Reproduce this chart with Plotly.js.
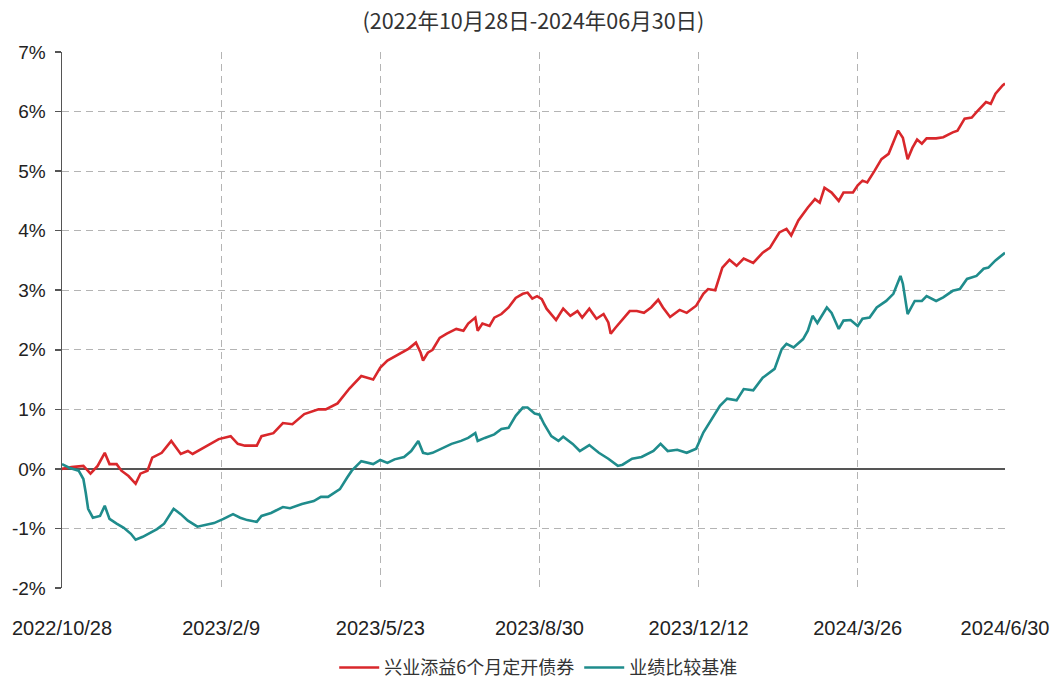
<!DOCTYPE html>
<html>
<head>
<meta charset="utf-8">
<script src="https://cdn.plot.ly/plotly-3.0.1.min.js"></script>
<style>html,body{margin:0;padding:0;background:#fff;}#chart{width:1050px;height:680px;}</style>
</head>
<body>
<div id="chart"></div>
<script>
// Trading-day index (0 = 2022/10/28, 397 = 2024/6/30) and cumulative return (%)
const redName = "兴业添益6个月定开债券";
const tealName = "业绩比较基准";

const redIdx = [0,4,9,12,15,18,20,23,25,28,31,33,36,38,42,46,50,53,55,59,62,66,71,74,77,82,84,89,93,97,102,108,111,116,121,126,131,134,137,143,146,149,151,152,154,156,159,162,166,169,171,174,175,177,180,182,185,188,191,194,196,198,200,202,204,208,211,214,217,219,222,225,228,230,231,233,236,239,242,245,248,251,253,256,260,263,267,270,272,275,278,281,284,287,291,295,298,302,305,307,310,314,317,319,321,324,327,329,333,335,337,339,342,345,348,350,352,354,356,358,360,362,364,368,371,375,377,380,383,385,389,391,393,396,397];
const redVal = [0.0,0.03,0.05,-0.08,0.05,0.27,0.08,0.08,-0.03,-0.12,-0.25,-0.08,-0.03,0.19,0.27,0.47,0.25,0.3,0.25,0.34,0.42,0.5,0.55,0.42,0.39,0.39,0.55,0.6,0.77,0.75,0.92,1.0,1.0,1.1,1.35,1.56,1.5,1.7,1.82,1.95,2.02,2.12,1.95,1.82,1.95,2.0,2.2,2.27,2.35,2.32,2.44,2.54,2.32,2.44,2.4,2.54,2.6,2.71,2.87,2.94,2.96,2.86,2.9,2.85,2.69,2.5,2.69,2.57,2.65,2.54,2.69,2.52,2.6,2.46,2.27,2.37,2.52,2.65,2.65,2.62,2.71,2.84,2.71,2.55,2.67,2.62,2.74,2.94,3.02,3.0,3.38,3.51,3.41,3.53,3.46,3.63,3.71,3.97,4.03,3.92,4.17,4.39,4.53,4.47,4.72,4.64,4.5,4.64,4.64,4.76,4.84,4.81,5.0,5.2,5.29,5.48,5.68,5.56,5.2,5.39,5.53,5.46,5.55,5.55,5.57,5.65,5.68,5.88,5.9,5.99,6.16,6.13,6.3,6.44,6.47];

const tealIdx = [0,3,7,9,10,11,13,16,18,20,23,26,29,31,34,37,40,43,47,50,53,57,60,64,68,72,75,78,82,84,88,93,96,101,106,109,112,117,120,122,126,129,131,134,137,140,144,147,150,152,154,156,160,164,168,171,174,175,178,182,185,188,191,194,196,199,201,203,206,209,211,215,218,222,226,230,234,236,240,244,249,252,255,259,263,267,270,274,277,280,284,287,291,295,300,303,305,308,312,314,316,318,320,322,324,327,329,332,335,337,340,343,347,350,353,354,356,359,362,364,368,371,375,378,381,385,388,390,393,396,397];
const tealVal = [0.08,0.02,-0.03,-0.17,-0.4,-0.67,-0.82,-0.79,-0.62,-0.84,-0.92,-0.99,-1.09,-1.19,-1.14,-1.07,-1.01,-0.92,-0.67,-0.76,-0.87,-0.97,-0.94,-0.91,-0.84,-0.76,-0.82,-0.86,-0.89,-0.79,-0.74,-0.64,-0.66,-0.59,-0.54,-0.47,-0.47,-0.34,-0.15,-0.03,0.13,0.1,0.08,0.15,0.1,0.16,0.2,0.3,0.47,0.27,0.25,0.27,0.35,0.42,0.47,0.52,0.6,0.47,0.52,0.58,0.67,0.69,0.89,1.03,1.03,0.93,0.91,0.75,0.55,0.47,0.54,0.42,0.3,0.4,0.27,0.17,0.05,0.07,0.17,0.2,0.3,0.42,0.3,0.32,0.27,0.34,0.61,0.86,1.06,1.18,1.15,1.34,1.32,1.53,1.68,2.01,2.1,2.04,2.18,2.32,2.57,2.45,2.57,2.71,2.62,2.35,2.49,2.5,2.4,2.52,2.54,2.71,2.82,2.94,3.24,3.11,2.6,2.82,2.82,2.9,2.82,2.88,2.99,3.02,3.19,3.24,3.36,3.38,3.5,3.61,3.63];

const xTickVals = [0,67,134,201,268,335,397];
const xTickText = ["2022/10/28","2023/2/9","2023/5/23","2023/8/30","2023/12/12","2024/3/26","2024/6/30"];
const yTickVals = [-2,-1,0,1,2,3,4,5,6,7];
const yTickText = ["-2%","-1%","0%","1%","2%","3%","4%","5%","6%","7%"];
const titleText = "(2022年10月28日-2024年06月30日)";

const xTickFont = {family: "Liberation Sans, Arial, sans-serif", size: 20, color: "#222"};
const yTickFont = {family: "Liberation Sans, Arial, sans-serif", size: 19, color: "#222"};
const cjkFont = "Noto Sans CJK SC, sans-serif";

const traces = [
  {x: redIdx, y: redVal, type: "scatter", mode: "lines", name: redName,
   line: {color: "#d9272b", width: 2.6, shape: "linear"}},
  {x: tealIdx, y: tealVal, type: "scatter", mode: "lines", name: tealName,
   line: {color: "#1f8c8c", width: 2.6, shape: "linear"}}
];

const layout = {
  width: 1050, height: 680,
  margin: {l: 62, r: 45, t: 52, b: 92, autoexpand: false},
  paper_bgcolor: "#fff", plot_bgcolor: "#fff",
  title: {text: titleText, font: {family: cjkFont, size: 21.5, color: "#333"},
          x: 0.508, xanchor: "center", y: 0.968, yanchor: "middle", yref: "container"},
  xaxis: {
    range: [0, 397], tickvals: xTickVals, ticktext: xTickText,
    showgrid: true, gridcolor: "#b4b4b4", griddash: "7px,5px", gridwidth: 1,
    zeroline: false, showline: false, ticks: "", ticklabelstandoff: 26,
    ticklabeloverflow: "allow", automargin: false,
    tickfont: xTickFont, fixedrange: true
  },
  xaxis2: {
    overlaying: "x", anchor: "free", position: 2/9, range: [0, 397],
    tickvals: xTickVals, ticks: "outside", ticklen: 5, tickcolor: "#444", tickwidth: 1.5,
    showticklabels: false, showgrid: false, zeroline: false, showline: false
  },
  yaxis: {
    range: [-2, 7], tickvals: yTickVals, ticktext: yTickText,
    showgrid: true, gridcolor: "#b4b4b4", griddash: "7px,5px", gridwidth: 1,
    zeroline: true, zerolinecolor: "#555", zerolinewidth: 1.5,
    showline: true, linecolor: "#555", linewidth: 1.5,
    ticks: "outside", ticklen: 6, tickcolor: "#555", tickwidth: 1.5,
    ticklabelstandoff: 5, automargin: false, tickfont: yTickFont, fixedrange: true
  },
  showlegend: true,
  legend: {orientation: "h", x: 0.505, xanchor: "center", xref: "paper",
           y: 0.018, yanchor: "middle", yref: "container",
           font: {family: cjkFont, size: 18, color: "#333"}, itemwidth: 40, tracegroupgap: 0},
};

Plotly.newPlot("chart", traces, layout, {displayModeBar: false, staticPlot: true});
</script>
</body>
</html>
